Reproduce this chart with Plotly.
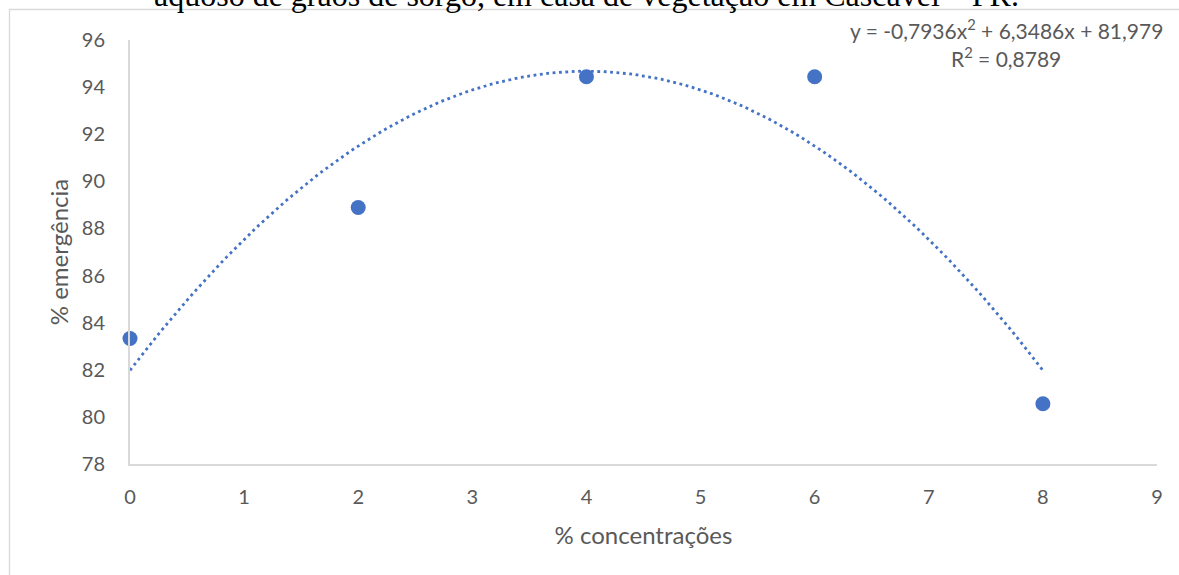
import numpy as np
import plotly.graph_objects as go

# data
concentracoes = [0, 2, 4, 6, 8]
emergencia = [83.33, 88.89, 94.44, 94.44, 80.56]
coef = [-0.7936, 6.3486, 81.979]  # a, b, c of quadratic trendline
r2 = 0.8789
x_ticks = [0, 1, 2, 3, 4, 5, 6, 7, 8, 9]
y_ticks = [78, 80, 82, 84, 86, 88, 90, 92, 94, 96]

title_text = "aquoso de grãos de sorgo, em casa de vegetação em Cascavel – PR."
eq_text = "y = -0,7936x<sup>2</sup> + 6,3486x + 81,979"
r2_text = "R<sup>2</sup> = 0,8789"

W, H = 1179, 575
L, R, T, B = 130, 22, 40, 111

blue = "#4472C4"
gray_txt = "#595959"
axis_col = "#D9D9D9"
font_fam = "Lato, Carlito, 'Open Sans', sans-serif"

xt = np.linspace(min(concentracoes), max(concentracoes), 200)
yt = coef[0] * xt**2 + coef[1] * xt + coef[2]

fig = go.Figure()
fig.add_trace(go.Scatter(x=xt, y=yt, mode="lines",
                         line=dict(color=blue, width=2.8, dash="2.8px,3.6px"),
                         hoverinfo="skip", showlegend=False))
fig.add_trace(go.Scatter(x=concentracoes, y=emergencia, mode="markers",
                         marker=dict(color=blue, size=15, line=dict(width=0)),
                         showlegend=False, cliponaxis=False))

pw = W - L - R
ph = H - T - B


def px_x(p):
    return (p - L) / pw


def px_y(p):
    return 1 - (p - T) / ph


fig.update_layout(
    width=W, height=H,
    margin=dict(l=L, r=R, t=T, b=B, pad=0),
    paper_bgcolor="white", plot_bgcolor="white",
    font=dict(family=font_fam, color=gray_txt, size=20),
    xaxis=dict(range=[0, 9], tickvals=x_ticks, showgrid=False, zeroline=False,
               showline=True, linecolor=axis_col, linewidth=2, ticks="",
               tickfont=dict(size=20, color=gray_txt), ticklabelstandoff=14,
               title=dict(text="% concentrações", font=dict(size=24, color=gray_txt), standoff=20)),
    yaxis=dict(range=[78, 96], tickvals=y_ticks, showgrid=False, zeroline=False,
               showline=True, linecolor=axis_col, linewidth=2, ticks="",
               tickfont=dict(size=20, color=gray_txt), ticklabelstandoff=19,
               title=dict(text="% emergência", font=dict(size=24, color=gray_txt), standoff=6)),
    shapes=[
        dict(type="rect", xref="paper", yref="paper",
             x0=px_x(9.5), x1=px_x(W + 20), y0=px_y(H + 20), y1=px_y(9.5),
             line=dict(color="#D9D9D9", width=1.3), fillcolor="rgba(0,0,0,0)", layer="below"),
    ],
    annotations=[
        dict(text=title_text, xref="paper", yref="paper", x=px_x(586), y=px_y(15),
             xanchor="center", yanchor="bottom", showarrow=False,
             font=dict(family="'Liberation Serif', 'Times New Roman', serif", size=32, color="black")),
        dict(text=eq_text, xref="paper", yref="paper", x=px_x(1006), y=px_y(29),
             xanchor="center", yanchor="middle", showarrow=False,
             font=dict(size=21, color=gray_txt)),
        dict(text=r2_text, xref="paper", yref="paper", x=px_x(1006), y=px_y(57),
             xanchor="center", yanchor="middle", showarrow=False,
             font=dict(size=21, color=gray_txt)),
    ],
)

fig.write_html("out.html", config={"displayModeBar": False},
               post_script="document.body.style.margin='0';document.body.style.overflow='hidden';")
